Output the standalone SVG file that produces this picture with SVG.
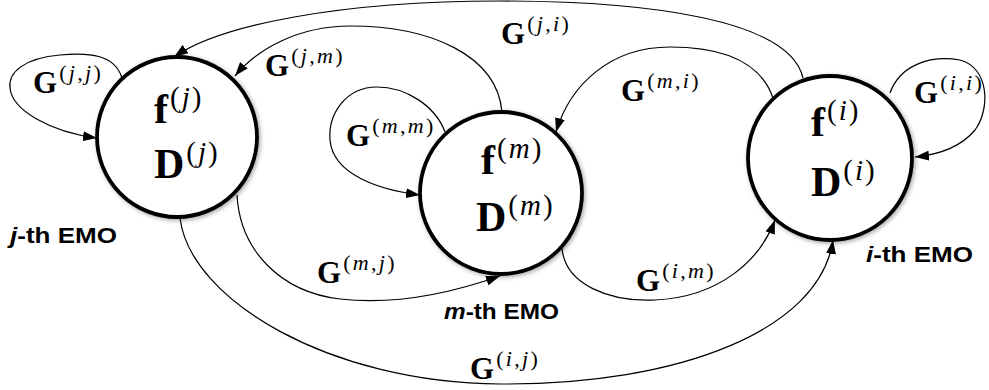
<svg xmlns="http://www.w3.org/2000/svg" width="989" height="390" viewBox="0 0 989 390">
<style>
.node{fill:#fff;stroke:#000;stroke-width:3.8;filter:url(#sh)}
.edge{fill:none;stroke:#000;stroke-width:1.2;marker-end:url(#ar)}
.big{font-family:"Liberation Serif",serif;font-weight:bold;font-size:42px}
.bs{font-family:"Liberation Serif",serif;font-weight:normal;font-size:29px;letter-spacing:2px}
.g{font-family:"Liberation Serif",serif;font-weight:bold;font-size:31px}
.gs{font-family:"Liberation Serif",serif;font-weight:normal;font-size:22px;letter-spacing:2.3px}
.it{font-style:italic}
.lab{font-family:"Liberation Sans",Arial,sans-serif;font-weight:bold;font-size:22px}
</style>
<defs>
<marker id="ar" viewBox="0 0 14 10" refX="14" refY="5" markerWidth="14" markerHeight="10" markerUnits="userSpaceOnUse" orient="auto">
<path d="M0,0 L14,5 L0,10 Z" fill="#000"/>
</marker>
<filter id="sh" x="-20%" y="-20%" width="140%" height="140%">
<feDropShadow dx="1.5" dy="1.5" stdDeviation="2" flood-color="#000" flood-opacity="0.35"/>
</filter>
</defs>
<g id="connectors">
<path id="e-jj" class="edge" d="M122,78 C115,55 90,52 60,55 C25,58 8,72 10,88 C12,110 50,132 97,138"/>
<path id="e-ji" class="edge" d="M803,78 C790,20 650,1 500,1 C340,1 220,25 174,57"/>
<path id="e-jm" class="edge" d="M502,112 C497,55 430,26 350,26 C300,26 258,48 235,76"/>
<path id="e-mm" class="edge" d="M445,132 C435,105 405,87 377,87 C345,87 328,115 330,140 C333,175 380,190 420,195"/>
<path id="e-mi" class="edge" d="M773,98 C760,60 720,47 670,47 C610,47 570,85 556,132"/>
<path id="e-mj" class="edge" d="M237,195 C240,250 280,292 340,299 C400,306 460,290 500,276"/>
<path id="e-im" class="edge" d="M562,248 C565,285 610,302 655,300 C720,297 760,260 775,220"/>
<path id="e-ij" class="edge" d="M180,218 C190,300 330,383 500,384 C680,385 820,330 833,240"/>
<path id="e-ii" class="edge" d="M890,93 C900,65 930,55 960,60 C990,68 990,110 975,130 C960,148 935,155 915,157"/>
</g>
<g id="node-j">
<circle class="node" cx="177" cy="137" r="80"/>
<text class="big" x="154" y="123">f<tspan class="bs" dx="2" dy="-16">(<tspan class="it">j</tspan>)</tspan></text>
<text class="big" x="154" y="178">D<tspan class="bs" dx="2" dy="-16">(<tspan class="it">j</tspan>)</tspan></text>
<text class="lab" x="10" y="243" textLength="107" lengthAdjust="spacingAndGlyphs"><tspan font-style="italic">j</tspan>-th EMO</text>
</g>
<g id="node-m">
<circle class="node" cx="501" cy="193" r="81"/>
<text class="big" x="481" y="174">f<tspan class="bs" dx="2" dy="-16">(<tspan class="it">m</tspan>)</tspan></text>
<text class="big" x="476" y="231">D<tspan class="bs" dx="2" dy="-16">(<tspan class="it">m</tspan>)</tspan></text>
<text class="lab" x="444" y="319" textLength="115" lengthAdjust="spacingAndGlyphs"><tspan font-style="italic">m</tspan>-th EMO</text>
</g>
<g id="node-i">
<circle class="node" cx="830" cy="158" r="82"/>
<text class="big" x="811" y="136">f<tspan class="bs" dx="2" dy="-16">(<tspan class="it">i</tspan>)</tspan></text>
<text class="big" x="811" y="196">D<tspan class="bs" dx="2" dy="-16">(<tspan class="it">i</tspan>)</tspan></text>
<text class="lab" x="866" y="262" textLength="107" lengthAdjust="spacingAndGlyphs"><tspan font-style="italic">i</tspan>-th EMO</text>
</g>
<g id="labels">
<text class="g" x="33" y="93">G<tspan class="gs" dx="2" dy="-13">(<tspan class="it">j</tspan>,<tspan class="it">j</tspan>)</tspan></text>
<text class="g" x="501" y="44">G<tspan class="gs" dx="2" dy="-13">(<tspan class="it">j</tspan>,<tspan class="it">i</tspan>)</tspan></text>
<text class="g" x="265" y="76">G<tspan class="gs" dx="2" dy="-13">(<tspan class="it">j</tspan>,<tspan class="it">m</tspan>)</tspan></text>
<text class="g" x="346" y="146">G<tspan class="gs" dx="2" dy="-13">(<tspan class="it">m</tspan>,<tspan class="it">m</tspan>)</tspan></text>
<text class="g" x="621" y="101">G<tspan class="gs" dx="2" dy="-13">(<tspan class="it">m</tspan>,<tspan class="it">i</tspan>)</tspan></text>
<text class="g" x="317" y="283">G<tspan class="gs" dx="2" dy="-13">(<tspan class="it">m</tspan>,<tspan class="it">j</tspan>)</tspan></text>
<text class="g" x="636" y="291">G<tspan class="gs" dx="2" dy="-13">(<tspan class="it">i</tspan>,<tspan class="it">m</tspan>)</tspan></text>
<text class="g" x="470" y="379">G<tspan class="gs" dx="2" dy="-13">(<tspan class="it">i</tspan>,<tspan class="it">j</tspan>)</tspan></text>
<text class="g" x="914" y="103">G<tspan class="gs" dx="2" dy="-13">(<tspan class="it">i</tspan>,<tspan class="it">i</tspan>)</tspan></text>
</g>
</svg>
